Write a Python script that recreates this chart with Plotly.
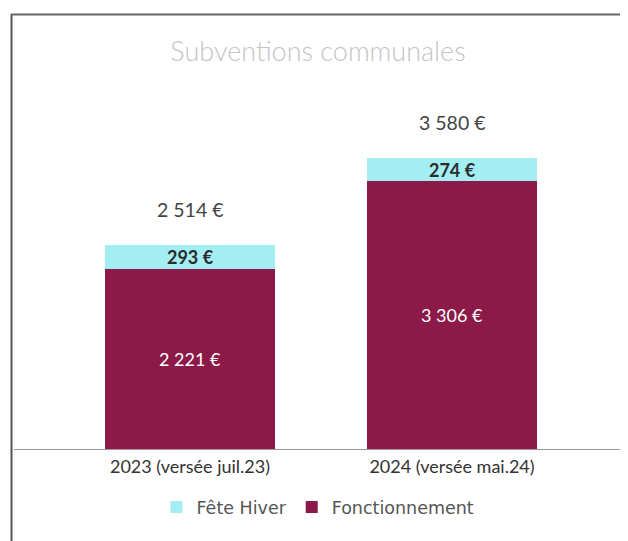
import plotly.graph_objects as go

categories = ["2023 (versée juil.23)", "2024 (versée mai.24)"]
fonctionnement = [2221, 3306]
fete_hiver = [293, 274]
totals = [a + b for a, b in zip(fonctionnement, fete_hiver)]

def fmt(v):
    return f"{v:,}".replace(",", " ") + " €"

W, H = 628, 541
OFF = 8  # page body margin
ml, mr, mt, mb = 51, 53, 92, 100
pw, ph = W - ml - mr, H - mt - mb

def px_x(p):
    return (p - OFF - ml) / pw

def px_y(p):
    return (H - mb - (p - OFF)) / ph

fig = go.Figure()
fig.add_trace(go.Bar(
    x=categories, y=fonctionnement, name="Fonctionnement",
    marker=dict(color="#8C1A48", line=dict(width=0)),
    text=[fmt(v) for v in fonctionnement], textposition="inside",
    insidetextanchor="middle", textangle=0,
    textfont=dict(color="white", size=18, family="Lato"),
    width=0.65,
))
fig.add_trace(go.Bar(
    x=categories, y=fete_hiver, name="Fête Hiver",
    marker=dict(color="#A3EEF3", line=dict(width=0)),
    text=["<b>" + fmt(v) + "</b>" for v in fete_hiver], textposition="inside",
    insidetextanchor="middle", textangle=0,
    textfont=dict(color="#2b2b2b", size=19, family="Lato"),
    width=0.65,
))

for c, t in zip(categories, totals):
    fig.add_annotation(x=c, y=t, text=fmt(t), showarrow=False,
                       yanchor="bottom", yshift=22,
                       font=dict(size=19.5, color="#444", family="Lato"))

# baseline and frame
fig.add_shape(type="line", xref="paper", yref="paper",
              x0=px_x(14), x1=px_x(640), y0=px_y(449.5), y1=px_y(449.5),
              line=dict(color="#9a9a9a", width=1.2))
fig.add_shape(type="line", xref="paper", yref="paper",
              x0=px_x(11.5), x1=px_x(11.5), y0=px_y(14), y1=px_y(560),
              line=dict(color="#555", width=2))
fig.add_shape(type="line", xref="paper", yref="paper",
              x0=px_x(11), x1=px_x(640), y0=px_y(14.5), y1=px_y(14.5),
              line=dict(color="#666", width=2))

fig.update_layout(
    width=W, height=H,
    margin=dict(l=ml, r=mr, t=mt, b=mb),
    paper_bgcolor="white", plot_bgcolor="white",
    barmode="stack",
    uniformtext=dict(minsize=18, mode="show"),
    title=dict(text="Subventions communales", x=(318 - OFF) / W, xanchor="center",
               y=1 - (52 - OFF) / H, yanchor="middle",
               font=dict(size=27, color="#c4c4c4", family="Lato", weight=300)),
    xaxis=dict(showgrid=False, showline=False, zeroline=False, ticks="",
               tickfont=dict(size=18, color="#333", family="Lato"),
               ticklabelstandoff=5,
               range=[-0.5, 1.5]),
    yaxis=dict(visible=False, range=[0, 4300]),
    showlegend=True,
    legend=dict(orientation="h", x=px_x(318), xanchor="center",
                y=px_y(507), yanchor="middle", traceorder="reversed",
                font=dict(size=17.5, color="#555", family="DejaVu Sans")),
)

fig.write_html("out.html")
